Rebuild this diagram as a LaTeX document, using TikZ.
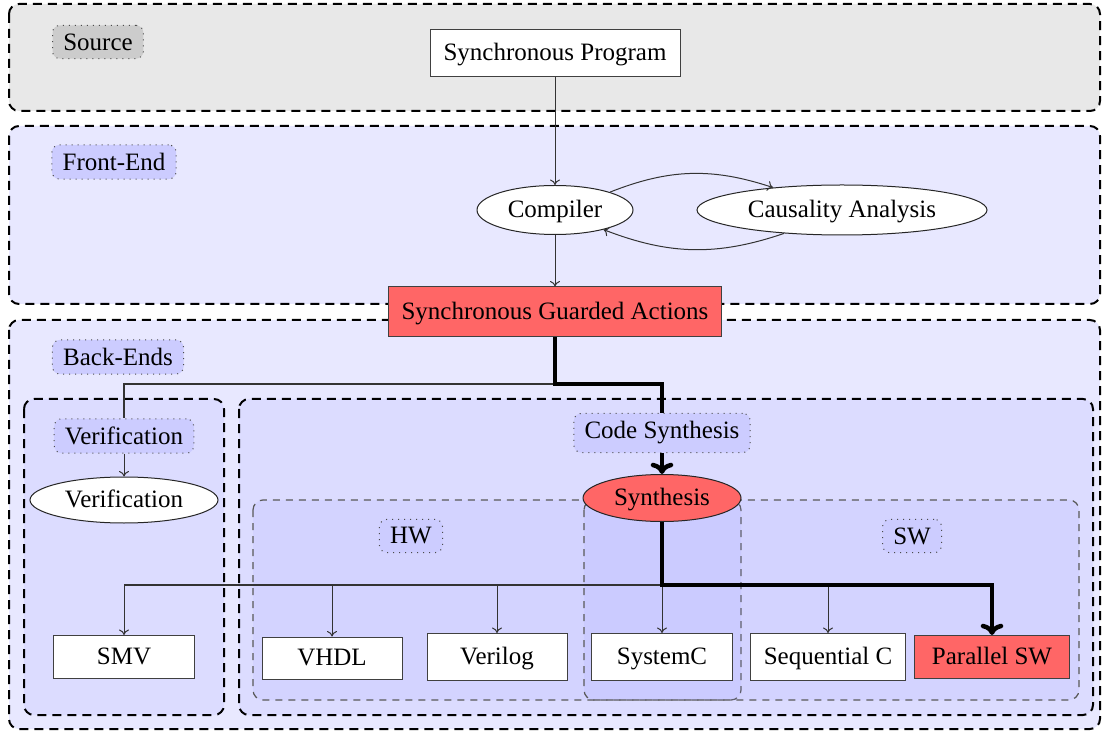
\documentclass[tikz,border=0pt]{standalone}
\usepackage{fontspec}
\setmainfont{Liberation Serif}
\usetikzlibrary{shapes.geometric,arrows.meta,backgrounds}

\definecolor{srcfill}{HTML}{E8E8E8}
\definecolor{srctag}{HTML}{CCCCCC}
\definecolor{panelfill}{HTML}{E8E8FF}
\definecolor{groupfill}{HTML}{DCDCFF}
\definecolor{tagfill}{HTML}{CCCCFF}
\definecolor{subfill}{RGB}{150,150,255}
\definecolor{hot}{HTML}{FF6666}

\tikzset{
  panel/.style={draw=black, line width=0.8pt, dash pattern=on 3.6pt off 2.4pt, rounded corners=4pt},
  subgroup/.style={draw=black!65, line width=0.5pt, dash pattern=on 2.8pt off 2.4pt, rounded corners=4pt,
                   fill=subfill, fill opacity=0.12},
  tag/.style={draw=black!70, dotted, rounded corners=3pt, fill=tagfill, inner xsep=4.3pt, inner ysep=3.3pt},
  stepbox/.style={draw=black!75, fill=white, rectangle, inner sep=0pt, text height=6.9pt, text depth=0.7pt},
  oval/.style={draw=black!85, fill=white, ellipse, inner sep=0pt, text height=6.9pt, text depth=0.7pt},
  flow/.style={draw=black!80, line width=0.4pt, -{To[length=2.2pt,width=4pt]}},
  wire/.style={draw=black!80, line width=0.5pt},
  heavy/.style={draw=black, line width=1.8pt},
  heavyarrow/.style={heavy, -{To[length=4.5pt,width=9pt]}}
}

\begin{document}
\begin{tikzpicture}[x=0.4pt,y=-0.4pt]
\useasboundingbox (0,0) rectangle (1105,731);

% stage panels and groups
\begin{pgfonlayer}{background}
  \draw[panel, fill=srcfill]   (9,4)    rectangle (1100,111);
  \draw[panel, fill=panelfill] (9,126)  rectangle (1100,304);
  \draw[panel, fill=panelfill] (9,320)  rectangle (1100,729);
  \draw[panel, fill=groupfill] (24,399) rectangle (224,715);
  \draw[panel, fill=groupfill] (239,399) rectangle (1093,715);
  \draw[subgroup] (253,500) rectangle (741,700);
  \draw[subgroup] (584,500) rectangle (1079,700);
\end{pgfonlayer}

% source
\node[tag, fill=srctag] (srclab) at (98,42) {Source};
\node[stepbox, minimum width=100pt, minimum height=18.8pt] (prog) at (555,53) {Synchronous Program};

% front-end
\node[tag] (felab) at (114,162) {Front-End};
\node[oval, minimum width=62.4pt, minimum height=19.6pt] (comp) at (555,210) {Compiler};
\node[oval, minimum width=116pt, minimum height=20pt] (caus) at (842,210) {Causality Analysis};
\node[stepbox, fill=hot, minimum width=133.2pt, minimum height=20pt] (sga) at (555,312) {Synchronous Guarded Actions};

% back-ends
\node[tag] (belab) at (118,357) {Back-Ends};
\node[tag] (vlab) at (124,436) {Verification};
\node[oval, minimum width=75.2pt, minimum height=18.4pt] (ver) at (124,500) {Verification};
\node[tag] (cslab) at (662,433) {Code Synthesis};
\node[oval, fill=hot, minimum width=63.2pt, minimum height=18.8pt] (syn) at (662,498) {Synthesis};
\node[tag] (hwlab) at (411,536) {HW};
\node[tag] (swlab) at (912,536) {SW};

% targets
\node[stepbox, minimum width=56.4pt, minimum height=17.2pt] (smv) at (124,657) {SMV};
\node[stepbox, minimum width=56pt, minimum height=16.8pt] (vhdl) at (332,658) {VHDL};
\node[stepbox, minimum width=56pt, minimum height=18.8pt] (verilog) at (497,657) {Verilog};
\node[stepbox, minimum width=56.4pt, minimum height=18.8pt] (sysc) at (662,657) {SystemC};
\node[stepbox, minimum width=62pt, minimum height=18.8pt] (seqc) at (828,657) {Sequential C};
\node[stepbox, fill=hot, minimum width=62pt, minimum height=17.2pt] (par) at (992,657) {Parallel SW};

% branching points
\coordinate (busA) at (555,384);
\coordinate (busB) at (662,585);

% connectors
\draw[flow] (prog) -- (comp);
\draw[flow] (comp.18) to[bend left=20] (caus.162);
\draw[flow] (caus.202) to[bend left=20] (comp.338);
\draw[flow] (comp) -- (sga);

\draw[wire] (busA) -| (vlab.north);
\draw[flow] (vlab) -- (ver);
\draw[heavy] (sga.south) -- (busA) -| (cslab.north);
\draw[heavyarrow] (cslab) -- (syn);

\draw[wire] (smv.north |- busB) -- (busB);
\foreach \t in {smv,vhdl,verilog,sysc,seqc}
  \draw[flow] (\t.north |- busB) -- (\t.north);
\draw[heavyarrow] (syn.south) -- (busB) -| (par.north);
\end{tikzpicture}
\end{document}
